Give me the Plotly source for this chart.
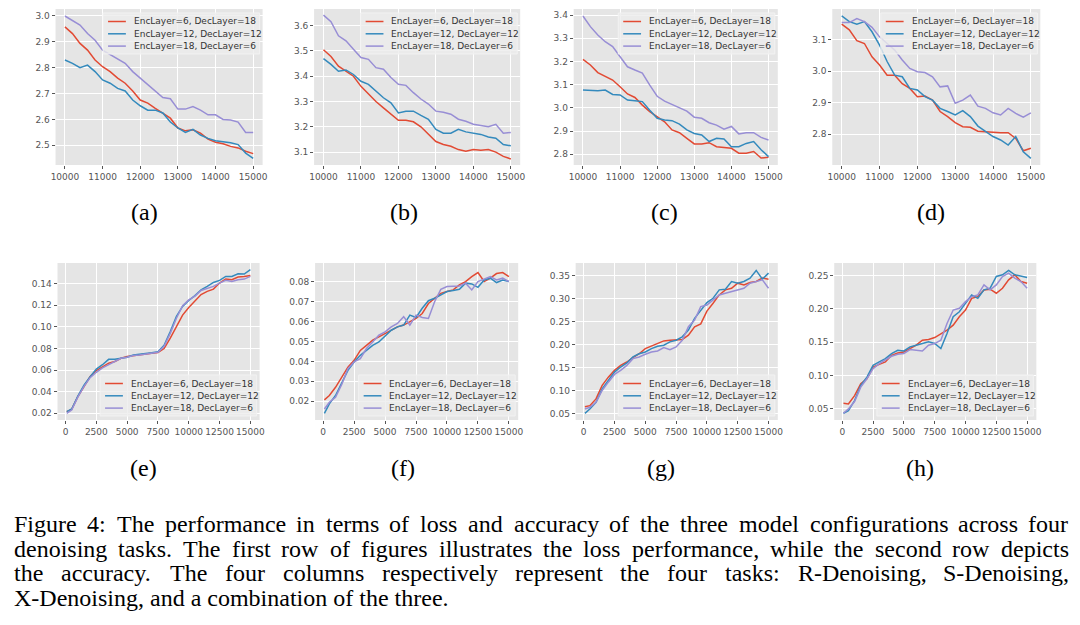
import plotly.graph_objects as go

W, H = 1080, 625

# training steps shown on the x axes
LOSS_STEPS = list(range(10000, 15001, 200))
ACC_STEPS = [100] + list(range(500, 15001, 500))

CONFIGS = ["EncLayer=6, DecLayer=18", "EncLayer=12, DecLayer=12", "EncLayer=18, DecLayer=6"]
COLORS = ["#E24A33", "#348ABD", "#988ED5"]

# ---- loss (first row) ----
loss_a_6_18 = [2.958, 2.932, 2.894, 2.868, 2.83, 2.804, 2.785, 2.76, 2.74, 2.71, 2.675, 2.663, 2.643,
               2.625, 2.605, 2.567, 2.556, 2.56, 2.547, 2.524, 2.512, 2.506, 2.496, 2.49, 2.477, 2.468]
loss_a_12_12 = [2.83, 2.817, 2.80, 2.81, 2.785, 2.753, 2.74, 2.72, 2.71, 2.675, 2.653, 2.636, 2.636,
                2.625, 2.59, 2.567, 2.55, 2.562, 2.54, 2.527, 2.518, 2.515, 2.51, 2.503, 2.47, 2.45]
loss_a_18_6 = [3.0, 2.983, 2.965, 2.932, 2.906, 2.868, 2.85, 2.832, 2.817, 2.785, 2.76, 2.735, 2.71,
               2.685, 2.68, 2.64, 2.64, 2.65, 2.636, 2.618, 2.618, 2.60, 2.598, 2.59, 2.55, 2.55]

loss_b_6_18 = [3.505, 3.478, 3.44, 3.42, 3.40, 3.36, 3.328, 3.30, 3.275, 3.25, 3.226, 3.226, 3.22,
               3.20, 3.17, 3.142, 3.13, 3.123, 3.11, 3.103, 3.11, 3.107, 3.11, 3.10, 3.083, 3.073]
loss_b_12_12 = [3.47, 3.447, 3.42, 3.425, 3.407, 3.38, 3.368, 3.34, 3.315, 3.295, 3.255, 3.262, 3.262,
                3.245, 3.23, 3.19, 3.175, 3.175, 3.19, 3.18, 3.175, 3.17, 3.16, 3.155, 3.13, 3.125]
loss_b_18_6 = [3.642, 3.616, 3.56, 3.54, 3.507, 3.474, 3.467, 3.434, 3.428, 3.395, 3.368, 3.364, 3.335,
               3.31, 3.29, 3.262, 3.258, 3.25, 3.23, 3.222, 3.21, 3.205, 3.20, 3.21, 3.175, 3.178]

loss_c_6_18 = [3.209, 3.185, 3.152, 3.137, 3.12, 3.091, 3.06, 3.045, 3.012, 2.984, 2.962, 2.94, 2.905,
               2.893, 2.869, 2.845, 2.845, 2.85, 2.833, 2.83, 2.826, 2.805, 2.805, 2.812, 2.784, 2.787]
loss_c_12_12 = [3.077, 3.074, 3.074, 3.077, 3.058, 3.056, 3.034, 3.031, 3.027, 2.99, 2.955, 2.948, 2.945,
                2.93, 2.905, 2.89, 2.883, 2.855, 2.869, 2.866, 2.833, 2.833, 2.847, 2.855, 2.82, 2.79]
loss_c_18_6 = [3.396, 3.35, 3.314, 3.285, 3.264, 3.22, 3.177, 3.163, 3.15, 3.098, 3.05, 3.029, 3.015,
               3.0, 2.986, 2.96, 2.955, 2.936, 2.926, 2.908, 2.92, 2.888, 2.893, 2.893, 2.873, 2.862]

loss_d_6_18 = [3.148, 3.13, 3.096, 3.087, 3.045, 3.019, 2.987, 2.987, 2.96, 2.945, 2.919, 2.921, 2.908,
               2.872, 2.856, 2.837, 2.824, 2.822, 2.81, 2.808, 2.805, 2.805, 2.805, 2.787, 2.748, 2.756]
loss_d_12_12 = [3.174, 3.156, 3.148, 3.156, 3.124, 3.082, 3.03, 2.987, 2.982, 2.945, 2.94, 2.919, 2.908,
                2.882, 2.872, 2.861, 2.875, 2.856, 2.826, 2.81, 2.793, 2.782, 2.766, 2.793, 2.745, 2.724]
loss_d_18_6 = [3.153, 3.153, 3.166, 3.156, 3.138, 3.108, 3.087, 3.066, 3.035, 3.008, 2.998, 2.995, 2.982,
               2.95, 2.953, 2.898, 2.908, 2.924, 2.889, 2.882, 2.868, 2.861, 2.882, 2.866, 2.854, 2.868]

# ---- accuracy (second row) ----
acc_e_6_18 = [0.0215, 0.0237, 0.0355, 0.0447, 0.054, 0.0596, 0.0633, 0.0664, 0.068, 0.071, 0.0726,
              0.0735, 0.074, 0.0747, 0.0757, 0.0763, 0.080, 0.0896, 0.100, 0.111, 0.118, 0.124,
              0.130, 0.1329, 0.135, 0.1406, 0.1443, 0.1437, 0.1462, 0.1468, 0.1477]
acc_e_12_12 = [0.0215, 0.024, 0.036, 0.046, 0.054, 0.061, 0.065, 0.070, 0.070, 0.071, 0.072,
               0.074, 0.0745, 0.075, 0.076, 0.077, 0.083, 0.0958, 0.1097, 0.119, 0.1245, 0.129,
               0.1344, 0.1375, 0.1412, 0.1431, 0.1468, 0.1468, 0.1493, 0.149, 0.153]
acc_e_18_6 = [0.020, 0.023, 0.035, 0.045, 0.053, 0.058, 0.062, 0.065, 0.068, 0.071, 0.072,
              0.0735, 0.074, 0.075, 0.0755, 0.0765, 0.082, 0.094, 0.108, 0.1196, 0.125, 0.1285,
              0.1338, 0.1355, 0.1375, 0.1406, 0.1431, 0.142, 0.1437, 0.1443, 0.1468]

acc_f_6_18 = [0.0207, 0.0229, 0.027, 0.032, 0.0371, 0.0405, 0.0455, 0.048, 0.0506, 0.0523, 0.054,
              0.056, 0.0573, 0.0582, 0.060, 0.0615, 0.064, 0.069, 0.0716, 0.0741, 0.075, 0.0758,
              0.0783, 0.080, 0.0825, 0.0845, 0.080, 0.0817, 0.084, 0.0845, 0.0825]
acc_f_12_12 = [0.0139, 0.0187, 0.0229, 0.0296, 0.0355, 0.0397, 0.043, 0.0455, 0.048, 0.0497, 0.0526,
               0.0556, 0.0573, 0.0582, 0.0632, 0.062, 0.0666, 0.0704, 0.0716, 0.0733, 0.075, 0.0755,
               0.0761, 0.0792, 0.0788, 0.0771, 0.0808, 0.0817, 0.0795, 0.0808, 0.080]
acc_f_18_6 = [0.0161, 0.0195, 0.022, 0.0284, 0.0363, 0.0397, 0.0413, 0.0464, 0.0497, 0.0531, 0.0548,
              0.0573, 0.059, 0.0624, 0.0582, 0.0632, 0.062, 0.0615, 0.0699, 0.0761, 0.0775, 0.0778,
              0.0778, 0.0792, 0.0758, 0.080, 0.0812, 0.0825, 0.0808, 0.0817, 0.080]

acc_g_6_18 = [0.0646, 0.0668, 0.0815, 0.111, 0.129, 0.1437, 0.1547, 0.162, 0.1715, 0.180, 0.1912,
              0.1963, 0.2022, 0.208, 0.2095, 0.2095, 0.211, 0.2205, 0.2388, 0.245, 0.273, 0.290,
              0.3083, 0.3193, 0.3229, 0.3339, 0.3302, 0.3354, 0.3376, 0.3449, 0.3427]
acc_g_12_12 = [0.050, 0.0595, 0.0741, 0.1034, 0.1217, 0.140, 0.151, 0.1598, 0.173, 0.180, 0.1839,
               0.1912, 0.1963, 0.1985, 0.2059, 0.2095, 0.2168, 0.2315, 0.2571, 0.2754, 0.2915, 0.301,
               0.3193, 0.3207, 0.3376, 0.3339, 0.3376, 0.3449, 0.3617, 0.3427, 0.3559]
acc_g_18_6 = [0.0595, 0.0632, 0.0741, 0.0998, 0.118, 0.1349, 0.1437, 0.1547, 0.1693, 0.173, 0.1788,
              0.1839, 0.1861, 0.1934, 0.189, 0.1949, 0.2095, 0.2388, 0.2534, 0.2827, 0.2863, 0.2973,
              0.3083, 0.312, 0.3156, 0.3193, 0.3229, 0.3339, 0.3376, 0.3412, 0.3229]

acc_h_6_18 = [0.0585, 0.0575, 0.070, 0.0877, 0.0952, 0.1128, 0.1168, 0.1204, 0.1304, 0.1339, 0.1354,
              0.1405, 0.1455, 0.153, 0.154, 0.157, 0.163, 0.1681, 0.1756, 0.1882, 0.1982, 0.2158,
              0.2183, 0.2284, 0.2294, 0.2234, 0.2309, 0.2435, 0.251, 0.241, 0.2384]
acc_h_12_12 = [0.0435, 0.0475, 0.0626, 0.0852, 0.0977, 0.1153, 0.1204, 0.1254, 0.1329, 0.1379, 0.1369,
               0.143, 0.1455, 0.148, 0.1505, 0.148, 0.1405, 0.163, 0.1882, 0.1957, 0.2083, 0.2209,
               0.2158, 0.2284, 0.2309, 0.2485, 0.251, 0.2575, 0.251, 0.2485, 0.247]
acc_h_18_6 = [0.0435, 0.050, 0.061, 0.0827, 0.0952, 0.1103, 0.1178, 0.1239, 0.1289, 0.1319, 0.1329,
              0.139, 0.1379, 0.1369, 0.1455, 0.148, 0.153, 0.1781, 0.1982, 0.2008, 0.2108, 0.2183,
              0.2209, 0.2359, 0.2284, 0.2359, 0.2485, 0.2535, 0.246, 0.241, 0.2309]

CAPTION_LINES = [
    "Figure 4: The performance in terms of loss and accuracy of the three model configurations across four",
    "denoising tasks. The first row of figures illustrates the loss performance, while the second row depicts",
    "the accuracy. The four columns respectively represent the four tasks: R-Denoising, S-Denoising,",
    "X-Denoising, and a combination of the three.",
]

# panel: label, steps, series, y range, y dtick, y format, plot box in px (l, t, r, b), legend corner, label centre
panels = [
    ("(a)", LOSS_STEPS, [loss_a_6_18, loss_a_12_12, loss_a_18_6], [2.424, 3.027], 0.1, ".1f", (51, 9, 260, 165), "top", (141, 212)),
    ("(b)", LOSS_STEPS, [loss_b_6_18, loss_b_12_12, loss_b_18_6], [3.049, 3.666], 0.1, ".1f", (312, 9, 520, 165), "top", (403, 212)),
    ("(c)", LOSS_STEPS, [loss_c_6_18, loss_c_12_12, loss_c_18_6], [2.754, 3.426], 0.1, ".1f", (574, 9, 780, 165), "top", (666, 212)),
    ("(d)", LOSS_STEPS, [loss_d_6_18, loss_d_12_12, loss_d_18_6], [2.703, 3.196], 0.1, ".1f", (835, 9, 1045, 165), "top", (935, 212)),
    ("(e)", ACC_STEPS, [acc_e_6_18, acc_e_12_12, acc_e_18_6], [0.0138, 0.1592], 0.02, ".2f", (53, 263, 257, 420), "bottom", (140, 468)),
    ("(f)", ACC_STEPS, [acc_f_6_18, acc_f_12_12, acc_f_18_6], [0.0106, 0.0893], 0.01, ".2f", (313, 263, 518, 420), "bottom", (402, 468)),
    ("(g)", ACC_STEPS, [acc_g_6_18, acc_g_12_12, acc_g_18_6], [0.0355, 0.3779], 0.05, ".2f", (576, 263, 780, 420), "bottom", (662, 468)),
    ("(h)", ACC_STEPS, [acc_h_6_18, acc_h_12_12, acc_h_18_6], [0.0334, 0.2687], 0.05, ".2f", (837, 263, 1041, 420), "bottom", (924, 468)),
]

# Times / Liberation Serif advance widths (per 1000 em), used to justify the caption
TIMES_W = dict(zip("abcdefghijklmnopqrstuvwxyz",
                   [444, 500, 444, 500, 444, 333, 500, 500, 278, 278, 500, 278, 778,
                    500, 500, 500, 500, 333, 389, 278, 500, 500, 722, 500, 500, 444]))
TIMES_W.update({"F": 556, "T": 611, "R": 667, "S": 556, "D": 722, "X": 722,
                "4": 500, ":": 278, ".": 250, ",": 250, "-": 333, " ": 250})


def px(x):
    return x / W


def py(y):
    return 1 - y / H


def text_width(s, size):
    return sum(TIMES_W.get(ch, 500) for ch in s) * size / 1000


fig = go.Figure()
layout = {}
shapes = []
annotations = []

tick_font = dict(family="DejaVu Sans", size=9, color="#555555")
legend_font = dict(family="DejaVu Sans", size=9, color="#333333")

for i, (label, steps, series, yrange, ydtick, yfmt, box, corner, lab) in enumerate(panels, start=1):
    l, t, r, b = box
    sfx = "" if i == 1 else str(i)
    top_row = steps is LOSS_STEPS
    for vals, name, color in zip(series, CONFIGS, COLORS):
        fig.add_trace(go.Scatter(
            x=steps, y=vals, mode="lines", name=name,
            line=dict(color=color, width=1.5),
            xaxis="x" + sfx, yaxis="y" + sfx, showlegend=False,
        ))
    layout["xaxis" + sfx] = dict(
        domain=[px(l), px(r)], anchor="y" + sfx,
        range=[9750, 15250] if top_row else [-650, 15750],
        dtick=1000 if top_row else 2500, tick0=0, tickformat="d", tickangle=0,
        showgrid=True, gridcolor="white", gridwidth=1, zeroline=False, showline=False,
        ticks="outside", ticklen=3, tickwidth=1, tickcolor="#555555", tickfont=tick_font,
    )
    layout["yaxis" + sfx] = dict(
        domain=[py(b), py(t)], anchor="x" + sfx,
        range=yrange, dtick=ydtick, tick0=0, tickformat=yfmt,
        showgrid=True, gridcolor="white", gridwidth=1, zeroline=False, showline=False,
        ticks="outside", ticklen=3, tickwidth=1, tickcolor="#555555", tickfont=tick_font,
    )

    # legend box drawn inside the panel, like matplotlib's
    lw, lh = 158, 41
    bx1 = r - 3
    bx0 = bx1 - lw
    by0 = t + 4 if corner == "top" else b - 4 - lh
    shapes.append(dict(type="rect", xref="paper", yref="paper",
                       x0=px(bx0), x1=px(bx1), y0=py(by0), y1=py(by0 + lh),
                       fillcolor="rgba(236,236,236,0.8)", line=dict(color="#F2F2F2", width=1), layer="above"))
    for k, (name, color) in enumerate(zip(CONFIGS, COLORS)):
        ry = by0 + 8.5 + 12.3 * k
        shapes.append(dict(type="line", xref="paper", yref="paper",
                           x0=px(bx0 + 5), x1=px(bx0 + 23), y0=py(ry), y1=py(ry),
                           line=dict(color=color, width=1.5), layer="above"))
        annotations.append(dict(xref="paper", yref="paper", x=px(bx0 + 29), y=py(ry),
                                xanchor="left", yanchor="middle", showarrow=False, text=name,
                                font=legend_font))

    annotations.append(dict(xref="paper", yref="paper", x=px(lab[0]), y=py(lab[1]),
                            xanchor="center", yanchor="middle", showarrow=False, text=label,
                            font=dict(family="Liberation Serif", size=24, color="black")))

# caption: first three lines justified between x=8 and x=1072, last line left aligned
CAP_SIZE = 24
cap_font = dict(family="Liberation Serif", size=CAP_SIZE, color="black")
for k, line in enumerate(CAPTION_LINES):
    yc = py(524 + 24.6 * k)
    if k == len(CAPTION_LINES) - 1:
        annotations.append(dict(xref="paper", yref="paper", x=px(8), y=yc, xanchor="left",
                                yanchor="middle", showarrow=False, text=line, font=cap_font,
                                borderpad=0))
        continue
    words = line.split(" ")
    widths = [text_width(w, CAP_SIZE) for w in words]
    gap = (1072 - 8 - sum(widths)) / (len(words) - 1)
    xpos = 8
    for w, wd in zip(words, widths):
        annotations.append(dict(xref="paper", yref="paper", x=px(xpos), y=yc, xanchor="left",
                                yanchor="middle", showarrow=False, text=w, font=cap_font,
                                borderpad=0))
        xpos += wd + gap

fig.update_layout(
    width=W, height=H,
    margin=dict(l=0, r=0, t=0, b=0),
    paper_bgcolor="white",
    plot_bgcolor="#E5E5E5",
    showlegend=False,
    shapes=shapes,
    annotations=annotations,
    **layout,
)

fig.write_html("out.html",
               config={"displayModeBar": False},
               post_script="document.body.style.margin='0';document.body.style.overflow='hidden';")
